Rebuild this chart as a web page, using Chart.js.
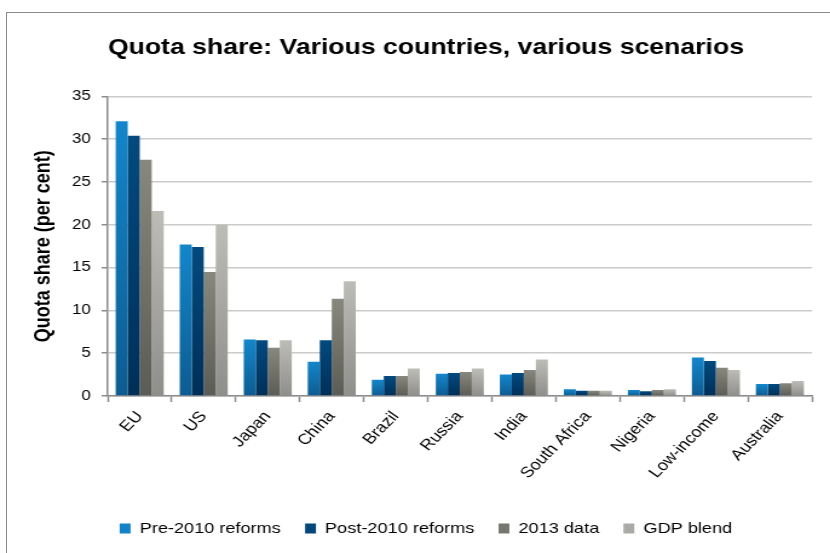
<!DOCTYPE html>
<html>
<head>
<meta charset="utf-8">
<script src="https://cdn.jsdelivr.net/npm/chart.js@4"></script>
<style>
  html, body { margin: 0; padding: 0; background: #fff; overflow: hidden; width: 830px; height: 553px; }
  #frame {
    position: absolute; left: 6px; top: 12px;
    width: 900px; height: 600px;
    border: 1px solid #8a8a8a;
  }
  /* the original picture is stretched sideways, so stretch the canvas the same way */
  #quota-chart {
    position: absolute; left: 0; top: 13px;
    transform: scaleX(1.21);
    transform-origin: 0 0;
  }
</style>
</head>
<body>
<div id="frame"></div>
<canvas id="quota-chart" width="704" height="545"></canvas>
<script>
const countries = ['EU', 'US', 'Japan', 'China', 'Brazil', 'Russia', 'India', 'South Africa', 'Nigeria', 'Low-income', 'Australia'];
const pre2010 = [32.1, 17.7, 6.6, 4.0, 1.9, 2.6, 2.5, 0.8, 0.7, 4.5, 1.4];
const post2010 = [30.4, 17.4, 6.5, 6.5, 2.35, 2.7, 2.7, 0.6, 0.55, 4.1, 1.4];
const data2013 = [27.6, 14.5, 5.65, 11.35, 2.35, 2.8, 3.05, 0.6, 0.7, 3.3, 1.5];
const gdpBlend = [21.6, 20.0, 6.5, 13.4, 3.2, 3.2, 4.25, 0.6, 0.8, 3.05, 1.75];
const yTicks = [0, 5, 10, 15, 20, 25, 30, 35];

const FONT = 'Liberation Sans, Arial, sans-serif';

// top / bottom colour of each bar's gradient
function barFill(top, bottom) {
  return function (ctx) {
    const chart = ctx.chart;
    if (!chart.chartArea || ctx.raw === undefined) return top;
    const y = chart.scales.y;
    const yTop = y.getPixelForValue(ctx.raw);
    const yBot = y.getPixelForValue(0);
    if (!isFinite(yTop) || yBot - yTop < 1) return top;
    const g = chart.ctx.createLinearGradient(0, yTop, 0, yBot);
    g.addColorStop(0, top);
    g.addColorStop(1, bottom);
    return g;
  };
}

function series(label, values, top, bottom) {
  return {
    label: label,
    data: values,
    backgroundColor: barFill(top, bottom),
    borderWidth: 0,
    categoryPercentage: 0.75,
    barPercentage: 1.0
  };
}

const legendFills = ['#1283c8', '#03477a', '#77776f', '#aaaaa6'];

const quotaChart = new Chart(document.getElementById('quota-chart'), {
  type: 'bar',
  data: {
    labels: countries,
    datasets: [
      series('Pre-2010 reforms', pre2010, '#1486cb', '#0d5c91'),
      series('Post-2010 reforms', post2010, '#044a7e', '#002f58'),
      series('2013 data', data2013, '#88887f', '#5c5c56'),
      series('GDP blend', gdpBlend, '#bdbdb8', '#8e8f8a')
    ]
  },
  options: {
    responsive: false,
    animation: false,
    layout: { padding: { left: 0, right: 0, top: 0, bottom: 12 } },
    plugins: {
      title: {
        display: true,
        text: 'Quota share: Various countries, various scenarios',
        color: '#000',
        font: { family: FONT, size: 22, weight: 'bold' },
        padding: { top: 22, bottom: 35 }
      },
      legend: {
        position: 'bottom',
        labels: {
          color: '#000',
          boxWidth: 9,
          boxHeight: 10,
          padding: 20,
          font: { family: FONT, size: 15 },
          generateLabels: function (chart) {
            return chart.data.datasets.map((ds, i) => ({
              text: ds.label,
              fillStyle: legendFills[i],
              strokeStyle: legendFills[i],
              lineWidth: 0,
              datasetIndex: i
            }));
          }
        }
      },
      tooltip: { enabled: false }
    },
    scales: {
      x: {
        afterFit: function (scale) { scale.height = 105; },
        grid: {
          display: true,
          drawOnChartArea: false,
          offset: true,
          tickLength: 6,
          tickColor: '#8c8c8c',
          tickWidth: 1.5
        },
        border: { color: '#8c8c8c', width: 1.5 },
        ticks: {
          color: '#000',
          // 50 degrees on the canvas reads as 45 once stretched
          minRotation: 50,
          maxRotation: 50,
          autoSkip: false,
          padding: 6,
          font: { family: FONT, size: 15 }
        }
      },
      y: {
        min: 0,
        max: 35,
        afterFit: function (scale) { scale.width = 89; },
        afterBuildTicks: function (scale) {
          scale.ticks = yTicks.map(v => ({ value: v }));
        },
        grid: {
          color: '#cbcbcb',
          lineWidth: 1.5,
          tickLength: 5,
          tickColor: '#8c8c8c'
        },
        border: { color: '#8c8c8c', width: 1.5 },
        ticks: {
          color: '#000',
          padding: 9,
          font: { family: FONT, size: 14 }
        },
        title: {
          display: true,
          text: 'Quota share (per cent)',
          color: '#000',
          font: { family: FONT, size: 18, weight: 'bold' },
          padding: { top: 25, bottom: 0 }
        }
      },
      // empty right-hand space, so the title and legend stay centred on the frame
      gap: {
        position: 'right',
        afterFit: function (scale) { scale.width = 33; },
        grid: { display: false },
        border: { display: false },
        ticks: { display: false }
      }
    }
  }
});
</script>
</body>
</html>
